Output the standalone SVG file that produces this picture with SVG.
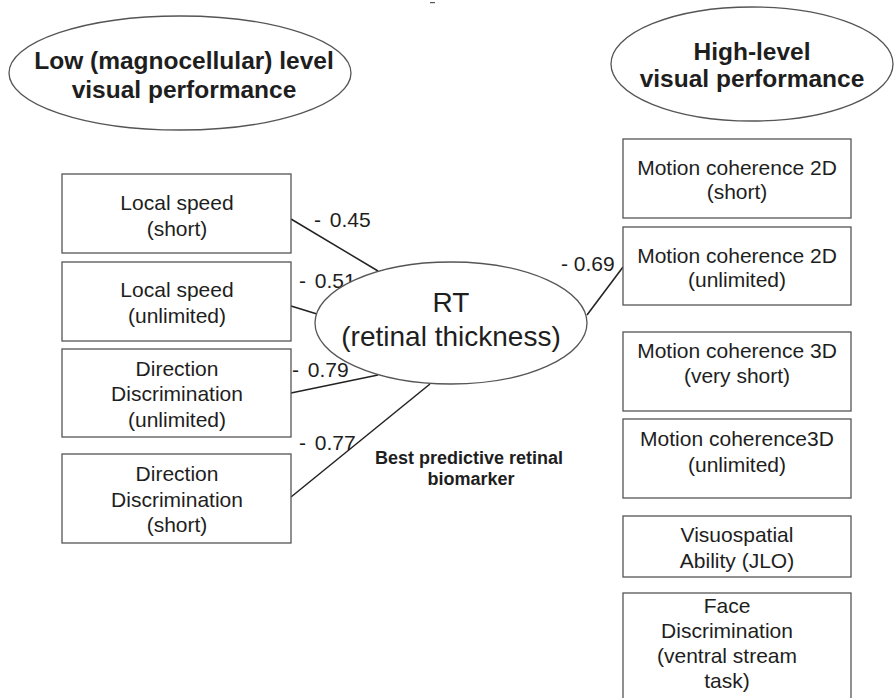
<svg xmlns="http://www.w3.org/2000/svg" width="894" height="698" viewBox="0 0 894 698">
<style>
  .bg { fill: #ffffff; }
  .shape { fill: #ffffff; stroke: #555555; stroke-width: 1.3; }
  .conn { stroke: #222222; stroke-width: 1.5; fill: none; }
  text { font-family: "Liberation Sans", Arial, sans-serif; fill: #1e1e1e; }
  .title { font-size: 24.5px; font-weight: bold; text-anchor: middle; }
  .box { font-size: 21px; text-anchor: middle; }
  .rt { font-size: 28px; text-anchor: middle; }
  .lbl { font-size: 21px; word-spacing: 3px; }
  .note { font-size: 18px; font-weight: bold; text-anchor: middle; }
</style>
<rect class="bg" x="0" y="0" width="894" height="698"/>
<rect x="430" y="2" width="5" height="1.2" fill="#555555"/>

<g id="low-level">
  <ellipse class="shape" cx="180" cy="73" rx="171" ry="57"/>
  <text class="title" x="184" y="69">Low (magnocellular) level</text>
  <text class="title" x="184" y="98">visual performance</text>
</g>

<g id="high-level">
  <ellipse class="shape" cx="752" cy="64" rx="141" ry="57"/>
  <text class="title" x="752" y="60">High-level</text>
  <text class="title" x="752" y="87">visual performance</text>
</g>

<g id="connectors">
  <line class="conn" x1="291" y1="219" x2="378" y2="271"/>
  <line class="conn" x1="291" y1="306" x2="317" y2="314"/>
  <line class="conn" x1="291" y1="393" x2="378" y2="375"/>
  <line class="conn" x1="291" y1="497" x2="430" y2="384"/>
  <line class="conn" x1="587" y1="315" x2="623" y2="267"/>
  <text class="lbl" x="314" y="227">- 0.45</text>
  <text class="lbl" x="299" y="288">- 0.51</text>
  <text class="lbl" x="292" y="377">- 0.79</text>
  <text class="lbl" x="299" y="450">- 0.77</text>
  <text class="lbl" x="561" y="271" style="word-spacing:0">- 0.69</text>
</g>

<g id="rt">
  <ellipse class="shape" cx="451" cy="323" rx="136" ry="61"/>
  <text class="rt" x="451" y="312">RT</text>
  <text class="rt" x="451" y="346">(retinal thickness)</text>
</g>

<g id="note">
  <text class="note" x="469" y="464">Best predictive retinal</text>
  <text class="note" x="471" y="485">biomarker</text>
</g>

<g id="local-speed-short">
  <rect class="shape" x="62" y="174" width="229" height="79"/>
  <text class="box" x="177" y="210">Local speed</text>
  <text class="box" x="177" y="236">(short)</text>
</g>
<g id="local-speed-unlimited">
  <rect class="shape" x="62" y="262" width="229" height="79"/>
  <text class="box" x="177" y="297">Local speed</text>
  <text class="box" x="177" y="323">(unlimited)</text>
</g>
<g id="direction-unlimited">
  <rect class="shape" x="62" y="349" width="229" height="88"/>
  <text class="box" x="177" y="376">Direction</text>
  <text class="box" x="177" y="401">Discrimination</text>
  <text class="box" x="177" y="427">(unlimited)</text>
</g>
<g id="direction-short">
  <rect class="shape" x="62" y="454" width="229" height="89"/>
  <text class="box" x="177" y="481">Direction</text>
  <text class="box" x="177" y="507">Discrimination</text>
  <text class="box" x="177" y="532">(short)</text>
</g>

<g id="mc2d-short">
  <rect class="shape" x="623" y="139" width="228" height="79"/>
  <text class="box" x="737" y="175">Motion coherence 2D</text>
  <text class="box" x="737" y="199">(short)</text>
</g>
<g id="mc2d-unlimited">
  <rect class="shape" x="623" y="227" width="228" height="78"/>
  <text class="box" x="737" y="263">Motion coherence 2D</text>
  <text class="box" x="737" y="287">(unlimited)</text>
</g>
<g id="mc3d-very-short">
  <rect class="shape" x="623" y="332" width="228" height="79"/>
  <text class="box" x="737" y="358">Motion coherence 3D</text>
  <text class="box" x="737" y="383">(very short)</text>
</g>
<g id="mc3d-unlimited">
  <rect class="shape" x="623" y="419" width="228" height="79"/>
  <text class="box" x="737" y="446">Motion coherence3D</text>
  <text class="box" x="737" y="472">(unlimited)</text>
</g>
<g id="visuospatial">
  <rect class="shape" x="623" y="516" width="228" height="61"/>
  <text class="box" x="737" y="542">Visuospatial</text>
  <text class="box" x="737" y="568">Ability (JLO)</text>
</g>
<g id="face-discrimination">
  <rect class="shape" x="623" y="593" width="228" height="120"/>
  <text class="box" x="727" y="613">Face</text>
  <text class="box" x="727" y="638">Discrimination</text>
  <text class="box" x="727" y="663">(ventral stream</text>
  <text class="box" x="727" y="688">task)</text>
</g>
</svg>
